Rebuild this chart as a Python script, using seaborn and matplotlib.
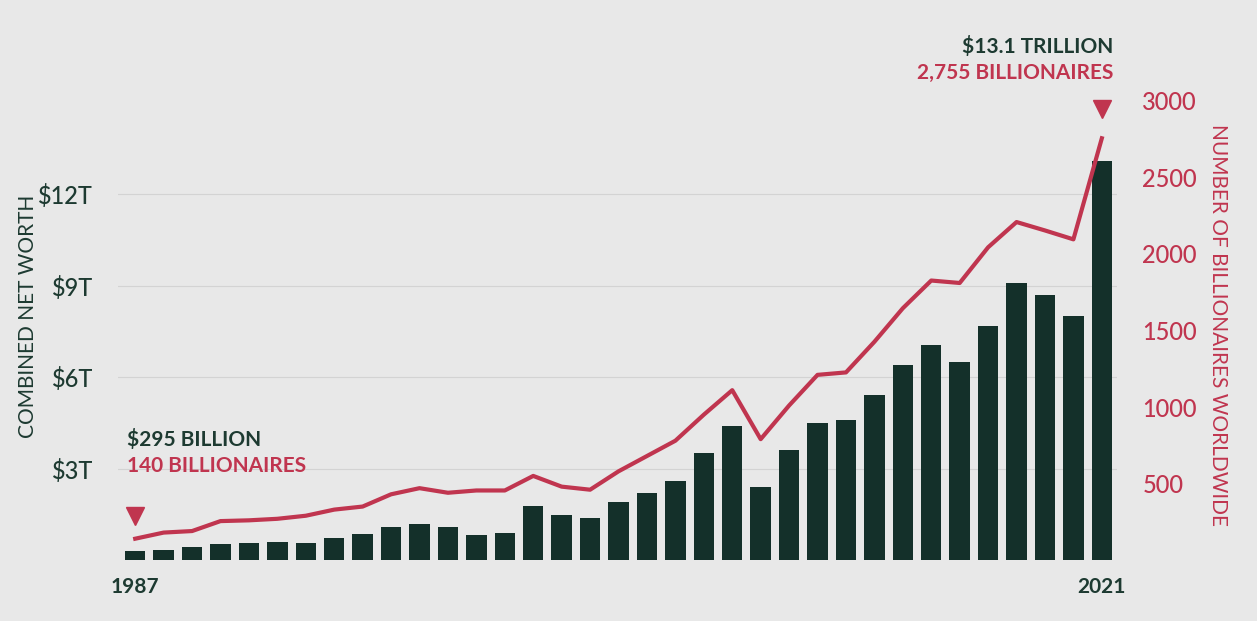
import matplotlib
matplotlib.use("Agg")
import matplotlib.pyplot as plt
import seaborn as sns
import pandas as pd
import numpy as np

years = list(range(1987, 2022))
net_worth_t = [0.295, 0.33, 0.43, 0.52, 0.56, 0.59, 0.56, 0.72, 0.85, 1.08, 1.18, 1.08, 0.82, 0.88,
               1.77, 1.48, 1.38, 1.9, 2.2, 2.6, 3.5, 4.4, 2.4, 3.6, 4.5, 4.6, 5.4, 6.4, 7.05, 6.48,
               7.67, 9.1, 8.7, 8.0, 13.1]
billionaires = [140, 180, 190, 255, 260, 270, 290, 330, 350, 430, 470, 440, 455, 455,
                550, 480, 460, 580, 680, 780, 950, 1110, 790, 1010, 1210, 1226, 1426, 1645, 1826, 1810,
                2043, 2208, 2153, 2095, 2755]
left_ticks = [3, 6, 9, 12]
left_labels = ["$3T", "$6T", "$9T", "$12T"]
right_ticks = [500, 1000, 1500, 2000, 2500, 3000]

df = pd.DataFrame({"year": years, "nw": net_worth_t, "b": billionaires, "pos": range(len(years))})

BG = "#e8e8e8"; GREEN = "#14302a"; RED = "#c0354f"; TXTG = "#1d3a31"
plt.rcParams["font.family"] = "Lato"

fig = plt.figure(figsize=(12.57, 6.21), dpi=100, facecolor=BG)
ax = fig.add_axes([0.094, 0.098, 0.795, 0.757], facecolor=BG)
sns.barplot(data=df, x="pos", y="nw", color=GREEN, width=0.72, saturation=1, ax=ax)
ax.set_ylim(0, 15.41)
ax.set_xlim(-0.6, len(years) - 0.45)
ax.set_yticks(left_ticks)
ax.set_yticklabels(left_labels, fontsize=17, color=TXTG, fontweight="medium")
ax.set_xticks([])
ax.set_xlabel("")
ax.set_ylabel("")
fig.text(0.022, 0.49, "COMBINED NET WORTH", rotation=90, fontsize=15, color=TXTG, ha="center", va="center")
ax.grid(axis="y", color="#d3d3d3", lw=0.8); ax.set_axisbelow(True)
ax.tick_params(axis="y", length=0, pad=18)
for s in ax.spines.values(): s.set_visible(False)

ax2 = ax.twinx()
sns.lineplot(data=df, x="pos", y="b", color=RED, lw=3, ax=ax2)
ax2.set_ylim(0, 3070)
ax2.set_yticks(right_ticks)
ax2.set_yticklabels([str(t) for t in right_ticks], fontsize=17, color=RED, fontweight="medium")
ax2.tick_params(axis="y", length=0, pad=18)
ax2.set_ylabel("NUMBER OF BILLIONAIRES WORLDWIDE", fontsize=15, color=RED, rotation=270, labelpad=22)
ax2.set_xlabel("")
for s in ax2.spines.values(): s.set_visible(False)

ax.text(0, -0.55, "1987", ha="center", va="top", fontsize=15, fontweight="bold", color=TXTG)
ax.text(len(years) - 1, -0.55, "2021", ha="center", va="top", fontsize=15, fontweight="bold", color=TXTG)

ax.text(-0.3, 3.6, "$295 BILLION", fontsize=15, fontweight="bold", color=TXTG, va="bottom")
ax.text(-0.3, 2.75, "140 BILLIONAIRES", fontsize=15, fontweight="bold", color=RED, va="bottom")
ax.plot([0], [1.45], marker="v", ms=13, color=RED)
ax.text(len(years) - 0.6, 16.5, "$13.1 TRILLION", fontsize=15, fontweight="bold", color=TXTG, ha="right", va="bottom", clip_on=False)
ax.text(len(years) - 0.6, 15.65, "2,755 BILLIONAIRES", fontsize=15, fontweight="bold", color=RED, ha="right", va="bottom", clip_on=False)
ax.plot([len(years) - 1], [14.8], marker="v", ms=13, color=RED, clip_on=False)

fig.savefig("out.png", dpi=100, facecolor=BG)
